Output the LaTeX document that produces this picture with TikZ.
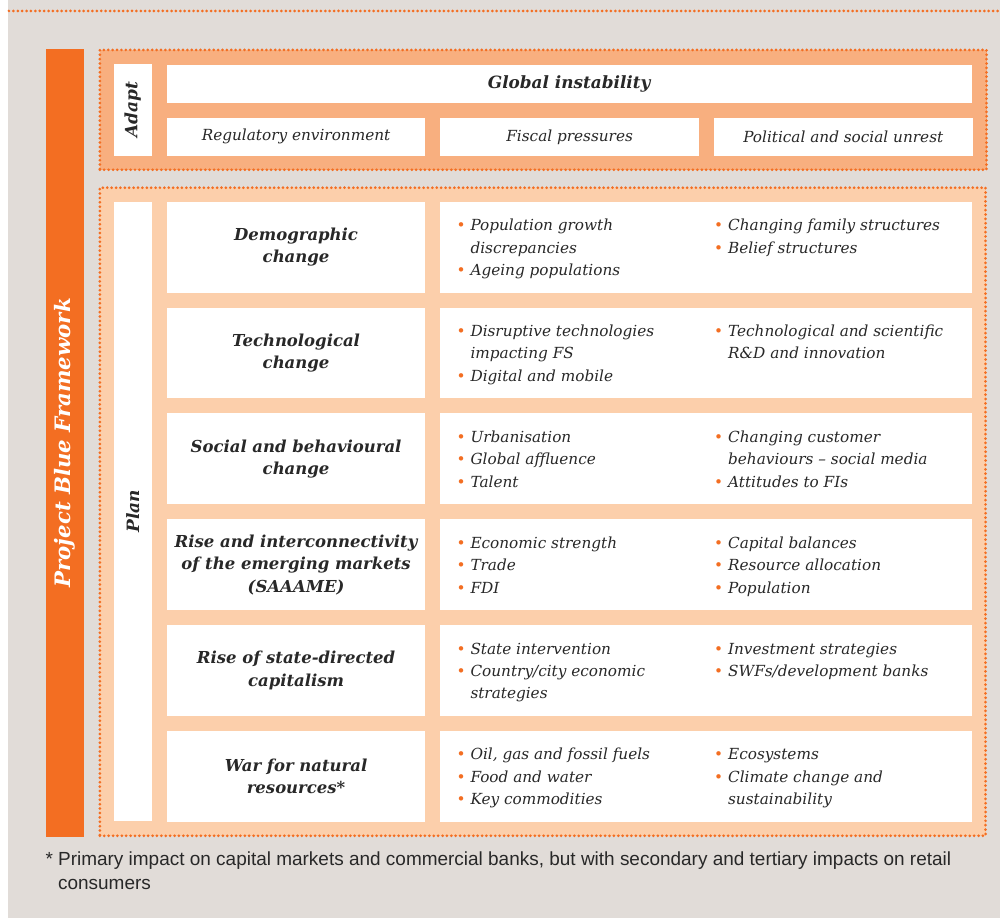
\documentclass[tikz,border=0pt]{standalone}
\usepackage{fontspec}
\setmainfont{DejaVu Serif}
\setsansfont{Liberation Sans}
\usetikzlibrary{positioning, fit, backgrounds}
\definecolor{pwcorange}{RGB}{243,110,34}
\definecolor{adaptfill}{RGB}{248,175,127}
\definecolor{planfill}{RGB}{252,207,171}
\definecolor{paper}{RGB}{225,220,216}
\definecolor{ink}{RGB}{40,40,40}
\tikzstyle{dots} = [draw=pwcorange, line width=3pt, dash pattern=on 0pt off 4.4pt, line cap=round]
\tikzstyle{panel} = [dots, rectangle, inner sep=14pt]
\tikzstyle{cell} = [rectangle, fill=white, inner sep=0pt, outer sep=0pt, text=ink]
\tikzstyle{tag} = [cell, rotate=90, minimum height=38pt, font=\bfseries\itshape\fontsize{17}{20}\selectfont]
\tikzstyle{headcell} = [cell, minimum height=38pt, font=\bfseries\itshape\fontsize{16.9}{20}\selectfont]
\tikzstyle{subcell} = [cell, minimum width=259pt, minimum height=38pt, font=\itshape\fontsize{15.3}{20}\selectfont]
\tikzstyle{factor} = [cell, minimum width=259pt, minimum height=91pt, align=center, font=\bfseries\itshape\fontsize{16.5}{22.5}\selectfont]
\tikzstyle{detail} = [cell, minimum width=532pt, minimum height=91pt]
\tikzstyle{points} = [inner sep=0pt, anchor=base west, text=ink, font=\itshape\fontsize{15.3}{22.5}\selectfont]
\newcommand{\bul}{\llap{\textcolor{pwcorange}{\upshape •}\hspace{5pt}}}
\newcommand{\pts}[1]{\begin{tabular}[t]{@{}l@{}}#1\end{tabular}}

\begin{document}
\begin{tikzpicture}[x=1pt, y=-1pt]

  \draw[dots] (9,11) -- (1001,11);

  % Framework bar
  \node (framework) [rectangle, fill=pwcorange, rotate=90, minimum width=789pt, minimum height=38pt,
    text=white, font=\bfseries\itshape\fontsize{21.3}{24}\selectfont] at (65,443.5) {Project Blue Framework};

  % Adapt
  \node (adapt_tag) [tag, minimum width=92pt] at (133,110) {Adapt};
  \node (global) [headcell, minimum width=806pt, anchor=north west] at (167,65) {Global instability};
  \node (regulatory) [subcell, anchor=north west] at (167,118) {Regulatory environment};
  \node (fiscal) [subcell, right=15pt of regulatory] {Fiscal pressures};
  \node (unrest) [subcell, right=15pt of fiscal] {Political and social unrest};

  % Plan
  \node (plan_tag) [tag, minimum width=620pt] at (133,512) {Plan};

  \node (demo) [factor, anchor=north west] at (167,202) {Demographic\\change};
  \node (tech) [factor, below=15pt of demo] {Technological\\change};
  \node (social) [factor, below=15pt of tech] {Social and behavioural\\change};
  \node (emerging) [factor, below=15pt of social] {Rise and interconnectivity\\of the emerging markets\\(SAAAME)};
  \node (state) [factor, below=15pt of emerging] {Rise of state-directed\\capitalism};
  \node (war) [factor, below=15pt of state] {War for natural\\resources*};

  \node (demo_d) [detail, right=15pt of demo] {};
  \node (tech_d) [detail, right=15pt of tech] {};
  \node (social_d) [detail, right=15pt of social] {};
  \node (emerging_d) [detail, right=15pt of emerging] {};
  \node (state_d) [detail, right=15pt of state] {};
  \node (war_d) [detail, right=15pt of war] {};

  % Bullet points
  \node (demo_a) [points] at ([xshift=30pt, yshift=-29pt]demo_d.north west)
    {\pts{\bul Population growth\\discrepancies\\\bul Ageing populations}};
  \node (demo_b) [points] at ([xshift=288pt, yshift=-29pt]demo_d.north west)
    {\pts{\bul Changing family structures\\\bul Belief structures}};
  \node (tech_a) [points] at ([xshift=30pt, yshift=-29pt]tech_d.north west)
    {\pts{\bul Disruptive technologies\\impacting FS\\\bul Digital and mobile}};
  \node (tech_b) [points] at ([xshift=288pt, yshift=-29pt]tech_d.north west)
    {\pts{\bul Technological and scientific\\R\&D and innovation}};
  \node (social_a) [points] at ([xshift=30pt, yshift=-29pt]social_d.north west)
    {\pts{\bul Urbanisation\\\bul Global affluence\\\bul Talent}};
  \node (social_b) [points] at ([xshift=288pt, yshift=-29pt]social_d.north west)
    {\pts{\bul Changing customer\\behaviours -- social media\\\bul Attitudes to FIs}};
  \node (emerging_a) [points] at ([xshift=30pt, yshift=-29pt]emerging_d.north west)
    {\pts{\bul Economic strength\\\bul Trade\\\bul FDI}};
  \node (emerging_b) [points] at ([xshift=288pt, yshift=-29pt]emerging_d.north west)
    {\pts{\bul Capital balances\\\bul Resource allocation\\\bul Population}};
  \node (state_a) [points] at ([xshift=30pt, yshift=-29pt]state_d.north west)
    {\pts{\bul State intervention\\\bul Country/city economic\\strategies}};
  \node (state_b) [points] at ([xshift=288pt, yshift=-29pt]state_d.north west)
    {\pts{\bul Investment strategies\\\bul SWFs/development banks}};
  \node (war_a) [points] at ([xshift=30pt, yshift=-29pt]war_d.north west)
    {\pts{\bul Oil, gas and fossil fuels\\\bul Food and water\\\bul Key commodities}};
  \node (war_b) [points] at ([xshift=288pt, yshift=-29pt]war_d.north west)
    {\pts{\bul Ecosystems\\\bul Climate change and\\sustainability}};

  % Page and section panels
  \begin{scope}[on background layer]
    \fill[white] (0,0) rectangle (1001,919);
    \fill[paper] (8,0) rectangle (1001,919);
    \node [panel, fill=adaptfill, fit=(adapt_tag)(global)(unrest)] {};
    \node [panel, fill=planfill, fit=(plan_tag)(demo)(war_d)] {};
  \end{scope}

  % Footnote
  \node (note) [anchor=base west, inner sep=0pt, text=ink, font=\sffamily\fontsize{19}{23.5}\selectfont] at (58,867)
    {\pts{\llap{*\hspace{5pt}}Primary impact on capital markets and commercial banks, but with secondary and tertiary impacts on retail\\consumers}};

\end{tikzpicture}
\end{document}
